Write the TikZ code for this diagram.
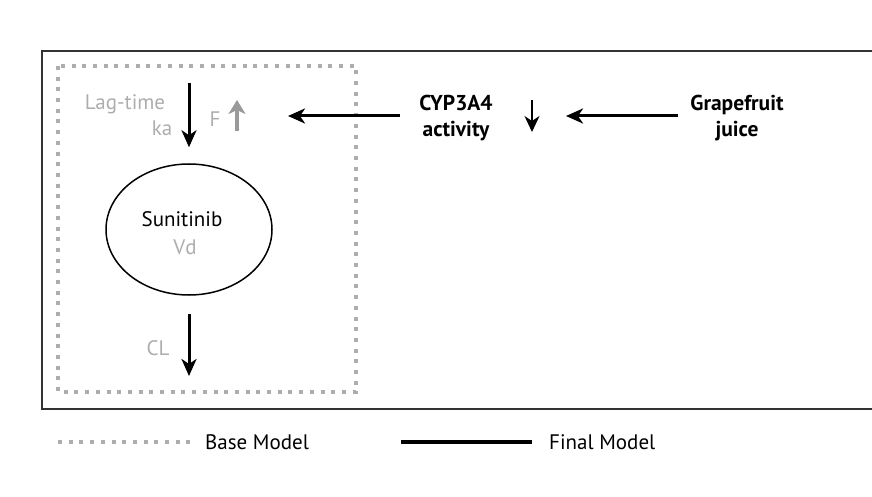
\documentclass[tikz,border=0pt]{standalone}
\usepackage{fontspec}
\setmainfont{PT Sans}
\usetikzlibrary{arrows.meta,shapes.geometric}
\definecolor{basegray}{HTML}{ADADAD}
\definecolor{arrgray}{HTML}{9A9A9A}
\definecolor{framegray}{HTML}{333333}
\begin{document}
\begin{tikzpicture}[x=1pt,y=-1pt,
  txt/.style={font=\fontsize{21}{26}\selectfont, inner sep=0pt},
  graytxt/.style={txt, text=basegray},
  boldtxt/.style={txt, font=\fontsize{21.5}{26}\selectfont\bfseries, align=center},
  mainarrow/.style={line width=3pt, -{Stealth[length=17pt,width=15pt,inset=5pt]}},
  thinarrow/.style={line width=2pt, -{Stealth[length=16pt,width=15pt,inset=5pt]}},
  grayarrow/.style={line width=4pt, draw=arrgray, -{Stealth[length=14pt,width=17pt,inset=4pt]}},
  basestyle/.style={draw=basegray, line width=4pt, dash pattern=on 4pt off 6.7pt},
  framestyle/.style={draw=framegray, line width=1.8pt}]
\useasboundingbox (0,0) rectangle (872,497);
% frame (open on the right)
\draw[framestyle] (880,51) -- (42,51) -- (42,409) -- (880,409);
% base model box
\draw[basestyle] (58,66) rectangle (356,392);
% texts
\node[graytxt] (lag) at (125,104) {Lag-time};
\node[graytxt] (ka) at (162,128) {ka};
\node[graytxt] (F) at (215,119) {F};
\node[ellipse, draw, line width=1.5pt, minimum width=166pt, minimum height=131pt, inner sep=0pt] (sun) at (189,229.5) {};
\node[txt] (sunt) at (182,219) {Sunitinib};
\node[graytxt] (vd) at (185,247) {Vd};
\node[graytxt] (cl) at (158,348) {CL};
\node[boldtxt] (cyp) at (456,118) {CYP3A4\\activity};
\node[boldtxt] (gj) at (737,118) {Grapefruit\\juice};
% coordinates
\coordinate (lagtop) at (189,83);
\coordinate (clend) at (189,376);
\coordinate (fbot) at (237,131);
\coordinate (ftop) at (237,100);
\coordinate (cypfrom) at (400,116);
\coordinate (fto) at (288,116);
\coordinate (downtop) at (532,100);
\coordinate (downbot) at (532,132);
\coordinate (gjfrom) at (678,116);
\coordinate (gjto) at (566,116);
% arrows
\draw[mainarrow, shorten >=16pt] (lagtop) -- (sun.north);
\draw[mainarrow, shorten <=18pt] (sun.south) -- (clend);
\draw[grayarrow] (fbot) -- (ftop);
\draw[mainarrow] (cypfrom) -- (fto);
\draw[thinarrow] (downtop) -- (downbot);
\draw[mainarrow] (gjfrom) -- (gjto);
% legend
\coordinate (bl1) at (58,442);
\coordinate (bl2) at (192,442);
\draw[basestyle] (bl1) -- (bl2);
\node[txt, anchor=west] (baselab) at (205,442) {Base Model};
\coordinate (fl1) at (401,442);
\coordinate (fl2) at (532,442);
\draw[line width=4pt] (fl1) -- (fl2);
\node[txt, anchor=west] (finallab) at (549,442) {Final Model};
\end{tikzpicture}
\end{document}
